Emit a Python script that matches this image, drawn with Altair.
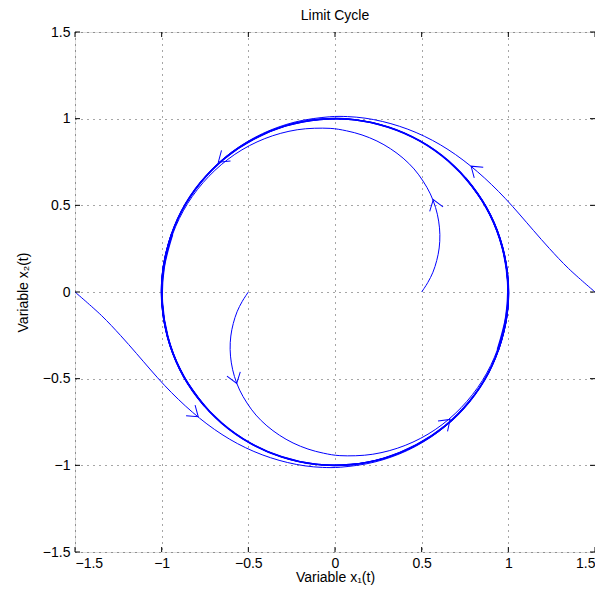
import altair as alt
import pandas as pd

# Trajectory starting at (1.5, 0)
a_x1 = [1.500, 1.348, 1.237, 1.146, 1.063, 0.984, 0.904, 0.823, 0.739, 0.652, 0.562, 0.468, 0.372, 0.273, 0.173, 0.072, -0.030,
        -0.229, -0.418, -0.591, -0.739, -0.858, -0.943, -0.991, -0.999, -0.967, -0.897, -0.791, -0.654, -0.490, -0.307, -0.112,
        0.088, 0.284, 0.469, 0.635, 0.776, 0.886, 0.960, 0.997, 0.993, 0.950, 0.869, 0.754]
a_x2 = [0.000, 0.135, 0.251, 0.354, 0.450, 0.538, 0.619, 0.693, 0.761, 0.822, 0.875, 0.920, 0.956, 0.984, 1.003, 1.012, 1.011,
        0.981, 0.914, 0.811, 0.677, 0.516, 0.335, 0.141, -0.058, -0.256, -0.443, -0.612, -0.757, -0.872, -0.952, -0.994,
        -0.996, -0.959, -0.883, -0.773, -0.631, -0.465, -0.279, -0.083, 0.117, 0.312, 0.494, 0.657]

# Trajectory starting at (-1.5, 0)
b_x1 = [-1.500, -1.348, -1.237, -1.146, -1.063, -0.984, -0.904, -0.823, -0.739, -0.652, -0.562, -0.468, -0.372, -0.273, -0.173, -0.072, 0.030,
        0.229, 0.418, 0.591, 0.739, 0.858, 0.943, 0.991, 0.999, 0.967, 0.897, 0.791, 0.654, 0.490, 0.307, 0.112,
        -0.088, -0.284, -0.469, -0.635, -0.776, -0.886, -0.960, -0.997, -0.993, -0.950, -0.869, -0.754]
b_x2 = [0.000, -0.135, -0.251, -0.354, -0.450, -0.538, -0.619, -0.693, -0.761, -0.822, -0.875, -0.920, -0.956, -0.984, -1.003, -1.012, -1.011,
        -0.981, -0.914, -0.811, -0.677, -0.516, -0.335, -0.141, 0.058, 0.256, 0.443, 0.612, 0.757, 0.872, 0.952, 0.994,
        0.996, 0.959, 0.883, 0.773, 0.631, 0.465, 0.279, 0.083, -0.117, -0.312, -0.494, -0.657]

# Trajectory starting at (0.5, 0)
c_x1 = [0.500, 0.535, 0.565, 0.587, 0.601, 0.605, 0.598, 0.580, 0.550, 0.508, 0.456, 0.393, 0.321, 0.242, 0.156, 0.066, -0.028,
        -0.218, -0.405, -0.578, -0.728, -0.850, -0.937, -0.986, -0.996, -0.965, -0.896, -0.790, -0.653, -0.490, -0.307, -0.112,
        0.087, 0.284, 0.468, 0.635, 0.776, 0.886, 0.960, 0.997, 0.993, 0.950, 0.869, 0.754]
c_x2 = [0.000, 0.054, 0.114, 0.182, 0.254, 0.331, 0.409, 0.488, 0.566, 0.640, 0.710, 0.772, 0.826, 0.871, 0.906, 0.930, 0.944,
        0.936, 0.885, 0.794, 0.667, 0.511, 0.333, 0.141, -0.058, -0.255, -0.442, -0.611, -0.756, -0.871, -0.951, -0.994,
        -0.996, -0.959, -0.883, -0.773, -0.631, -0.465, -0.279, -0.083, 0.117, 0.312, 0.494, 0.657]

# Trajectory starting at (-0.5, 0)
d_x1 = [-0.500, -0.535, -0.565, -0.587, -0.601, -0.605, -0.598, -0.580, -0.550, -0.508, -0.456, -0.393, -0.321, -0.242, -0.156, -0.066, 0.028,
        0.218, 0.405, 0.578, 0.728, 0.850, 0.937, 0.986, 0.996, 0.965, 0.896, 0.790, 0.653, 0.490, 0.307, 0.112,
        -0.087, -0.284, -0.468, -0.635, -0.776, -0.886, -0.960, -0.997, -0.993, -0.950, -0.869, -0.754]
d_x2 = [0.000, -0.054, -0.114, -0.182, -0.254, -0.331, -0.409, -0.488, -0.566, -0.640, -0.710, -0.772, -0.826, -0.871, -0.906, -0.930, -0.944,
        -0.936, -0.885, -0.794, -0.667, -0.511, -0.333, -0.141, 0.058, 0.255, 0.442, 0.611, 0.756, 0.871, 0.951, 0.994,
        0.996, 0.959, 0.883, 0.773, 0.631, 0.465, 0.279, 0.083, -0.117, -0.312, -0.494, -0.657]

# Arrow heads (tip position and screen rotation in degrees)
arrow_x1 = [0.785, -0.789, 0.567, -0.567, -0.673, 0.664]
arrow_x2 = [0.726, -0.720, 0.533, -0.528, 0.749, -0.735]
arrow_angle = [220, 40, 252, 72, 140, 317]

ticks = [-1.5, -1.0, -0.5, 0.0, 0.5, 1.0, 1.5]
title_text = ["Limit Cycle"]

FONT = "Liberation Sans"
BLUE = "#0000ff"
FS = 14

rows = []
for name, xs, ys in [("A", a_x1, a_x2), ("B", b_x1, b_x2), ("C", c_x1, c_x2), ("D", d_x1, d_x2)]:
    for i, (x, y) in enumerate(zip(xs, ys)):
        rows.append({"traj": name, "i": i, "x1": x, "x2": y})
df = pd.DataFrame(rows)

arrows = pd.DataFrame({"x1": arrow_x1, "x2": arrow_x2, "ang": arrow_angle})
tick_df = pd.DataFrame({"t": ticks})
title_df = pd.DataFrame({"label": title_text})

xscale = alt.Scale(domain=[-1.5, 1.5], nice=False, zero=False)
yscale = alt.Scale(domain=[-1.5, 1.5], nice=False, zero=False)

common_axis = dict(values=ticks, format=".1~f", grid=True, gridDash=[1, 5], gridColor="#000000",
                   gridOpacity=0.7, gridWidth=1, ticks=False, domain=False, labelFont=FONT,
                   labelFontSize=FS, labelColor="#000000", titleFont=FONT, titleFontSize=FS,
                   titleFontWeight="normal", titleColor="#000000")

xaxis = alt.Axis(title="Variable x₁(t)", labelPadding=4, titleX=260, titleY=29.5,
                 titleBaseline="alphabetic", titleAlign="center", **common_axis)
yaxis = alt.Axis(title="Variable x₂(t)", labelPadding=5, titleX=-52, titleY=260,
                 titleAngle=270, titleBaseline="middle", titleAlign="center", **common_axis)

lines = alt.Chart(df).mark_line(color=BLUE, strokeWidth=1, interpolate="catmull-rom", clip=True).encode(
    x=alt.X("x1:Q", scale=xscale, axis=xaxis),
    y=alt.Y("x2:Q", scale=yscale, axis=yaxis),
    detail="traj:N",
    order="i:Q",
)

# settled part of every trajectory (on the limit cycle), drawn a bit heavier
cycle = alt.Chart(df).transform_filter("datum.i >= 22").mark_line(
    color=BLUE, strokeWidth=1.6, interpolate="catmull-rom", clip=True
).encode(
    x=alt.X("x1:Q", scale=xscale),
    y=alt.Y("x2:Q", scale=yscale),
    detail="traj:N",
    order="i:Q",
)

heads = alt.Chart(arrows).mark_point(
    shape="M -1 -0.7 L 0 0 L -1 0.7", filled=False, size=400, stroke=BLUE, strokeWidth=1, opacity=1
).encode(
    x=alt.X("x1:Q", scale=xscale),
    y=alt.Y("x2:Q", scale=yscale),
    angle=alt.Angle("ang:Q", scale=None),
)

tick_left = alt.Chart(tick_df).mark_rule(color="black", strokeWidth=1).encode(
    y=alt.Y("t:Q", scale=yscale), x=alt.value(0), x2=alt.value(5))
tick_right = alt.Chart(tick_df).mark_rule(color="black", strokeWidth=1).encode(
    y=alt.Y("t:Q", scale=yscale), x=alt.value(515), x2=alt.value(520))
tick_bottom = alt.Chart(tick_df).mark_rule(color="black", strokeWidth=1).encode(
    x=alt.X("t:Q", scale=xscale), y=alt.value(515), y2=alt.value(520))
tick_top = alt.Chart(tick_df).mark_rule(color="black", strokeWidth=1).encode(
    x=alt.X("t:Q", scale=xscale), y=alt.value(0), y2=alt.value(5))

title = alt.Chart(title_df).mark_text(
    font=FONT, fontSize=FS, color="#000000", align="center", baseline="alphabetic"
).encode(x=alt.value(260), y=alt.value(-12), text="label:N")

chart = alt.layer(lines, cycle, heads, tick_left, tick_right, tick_bottom, tick_top, title).properties(
    width=520,
    height=520,
    autosize=alt.AutoSizeParams(type="none"),
    padding={"left": 67, "top": 24, "right": 0, "bottom": 33},
).configure_view(stroke="black", strokeWidth=1).configure(background="white")

chart.save("out.html", embed_options={"renderer": "svg", "actions": False})
